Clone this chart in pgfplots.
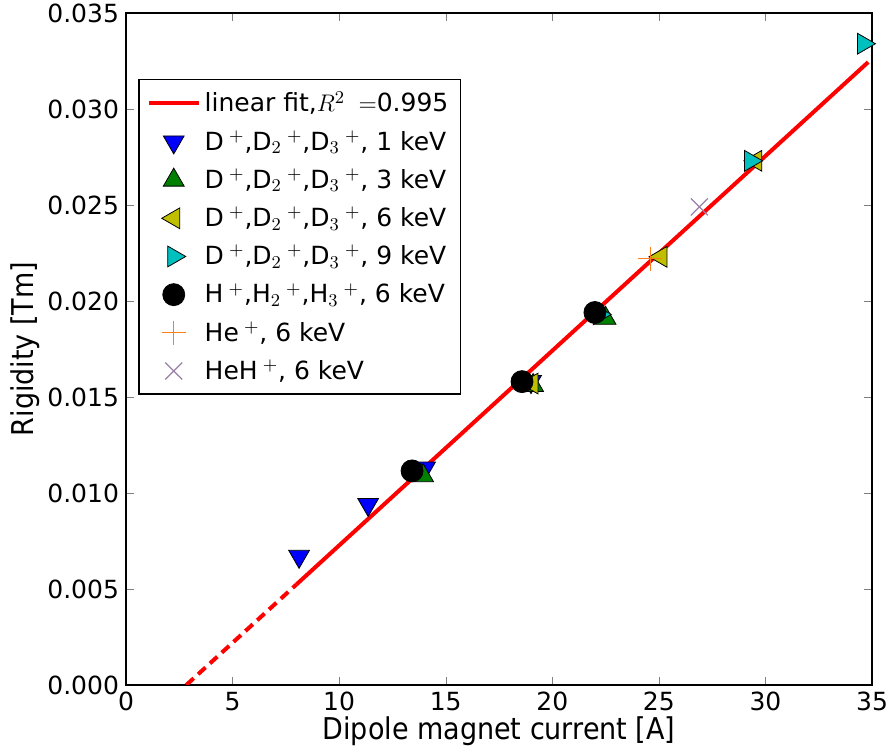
\documentclass[border=0pt]{standalone}
\usepackage{fontspec}
\setmainfont{DejaVu Sans}
\newfontfamily\condensed{DejaVu Sans Condensed}
\usepackage{pgfplots}
\pgfplotsset{compat=1.18}
\definecolor{mplyellow}{rgb}{0.75,0.75,0}
\definecolor{mplcyan}{rgb}{0,0.75,0.75}
\definecolor{mplgreen}{rgb}{0,0.5,0}
\definecolor{heorange}{rgb}{1.0,0.5,0.1}
\definecolor{hehpurple}{rgb}{0.6,0.5,0.66}
\newcommand{\pls}{^{\;+}}
\begin{document}
\begin{tikzpicture}
\begin{axis}[
  name=ax,
  scale only axis,
  width=373pt, height=336pt,
  xmin=0, xmax=35, ymin=0, ymax=0.035,
  xtick={0,5,...,35},
  ytick={0,0.005,0.01,0.015,0.02,0.025,0.03,0.035},
  scaled y ticks=false,
  yticklabel style={/pgf/number format/fixed, /pgf/number format/fixed zerofill, /pgf/number format/precision=3},
  /pgf/number format/assume math mode=true,
  tick label style={font=\fontsize{12.5}{15}\selectfont},
  tick align=inside, tick pos=both,
  major tick length=4pt,
  xlabel={\condensed\fontsize{15}{18}\selectfont Dipole magnet current [A]},
  ylabel={\condensed\fontsize{15}{18}\selectfont Rigidity [Tm]},
  xlabel style={yshift=4pt},
  ylabel style={yshift=-3pt},
  axis line style={line width=0.8pt},
  legend cell align=left,
  legend style={at={(rel axis cs:0.016,0.902)}, anchor=north west, draw=black, line width=0.8pt,
    font=\fontsize{12.5}{15}\selectfont, row sep=3.9pt, inner xsep=4pt, inner ysep=4pt,
    /tikz/every even column/.append style={column sep=6pt}},
  legend image code/.code={\draw[mark repeat=2,mark phase=2] plot coordinates {(0pt,0pt) (12.5pt,0pt) (25pt,0pt)};},
]
\addplot[red, line width=2pt, forget plot, dash pattern=on 5pt off 3pt] coordinates {(2.83,0) (8.0,0.00524)};
\addplot[red, line width=2pt] coordinates {(8.0,0.00524) (34.82,0.03244)};
\addlegendentry{linear fit,$R^2\;=$0.995}
\addplot[only marks, mark=triangle*, mark size=6pt, mark options={rotate=180, fill=blue, draw=black, line width=0.4pt}] coordinates {(8.12,0.0067) (11.36,0.0094) (14.03,0.0113) (19.0,0.0158)};
\addlegendentry{D$\pls$,D$_2{}\pls$,D$_3{}\pls$, 1 keV}
\addplot[only marks, mark=triangle*, mark size=6pt, mark options={fill=mplgreen, draw=black, line width=0.4pt}] coordinates {(13.94,0.0109) (19.1,0.0156) (22.5,0.0191)};
\addlegendentry{D$\pls$,D$_2{}\pls$,D$_3{}\pls$, 3 keV}
\addplot[only marks, mark=triangle*, mark size=6pt, mark options={rotate=90, fill=mplyellow, draw=black, line width=0.4pt}] coordinates {(19.05,0.0157) (25.1,0.0223) (29.55,0.0273)};
\addlegendentry{D$\pls$,D$_2{}\pls$,D$_3{}\pls$, 6 keV}
\addplot[only marks, mark=triangle*, mark size=6pt, mark options={rotate=-90, fill=mplcyan, draw=black, line width=0.4pt}] coordinates {(22.2,0.0193) (29.3,0.0273) (34.6,0.0334)};
\addlegendentry{D$\pls$,D$_2{}\pls$,D$_3{}\pls$, 9 keV}
\addplot[only marks, mark=*, mark size=5.5pt, mark options={fill=black, draw=black, line width=0.4pt}] coordinates {(13.42,0.01115) (18.58,0.0158) (22.0,0.0194)};
\addlegendentry{H$\pls$,H$_2{}\pls$,H$_3{}\pls$, 6 keV}
\addplot[only marks, mark=+, mark size=6pt, mark options={draw=heorange, line width=0.6pt}] coordinates {(24.59,0.0222)};
\addlegendentry{He$\pls$, 6 keV}
\addplot[only marks, mark=x, mark size=6pt, mark options={draw=hehpurple, line width=0.6pt}] coordinates {(26.9,0.0249)};
\addlegendentry{HeH$\pls$, 6 keV}
\end{axis}
\pgfresetboundingbox
\path ([xshift=-63pt,yshift=-35.5pt]ax.south west) rectangle ([xshift=10.5pt,yshift=6.5pt]ax.north east);
\end{tikzpicture}
\end{document}
